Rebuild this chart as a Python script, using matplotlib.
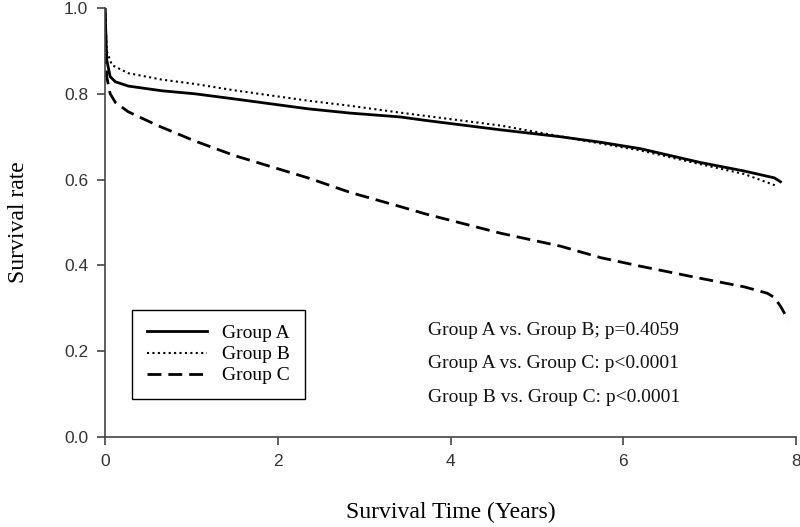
import numpy as np
import matplotlib
matplotlib.use('Agg')
import matplotlib.pyplot as plt

# Kaplan-Meier curves (years, survival rate)
t_a = [0, 0.02, 0.06, 0.12, 0.27, 0.66, 1.04, 1.5, 2.35, 2.84, 3.42, 3.71,
       4.58, 5.27, 5.74, 6.2, 6.89, 7.4, 7.75, 7.82]
s_a = [1.0, 0.879, 0.84, 0.828, 0.818, 0.807, 0.80, 0.788, 0.765, 0.755, 0.746, 0.738,
       0.716, 0.70, 0.687, 0.672, 0.64, 0.62, 0.604, 0.595]

t_b = [0, 0.02, 0.08, 0.27, 0.66, 1.04, 1.5, 2.35, 2.84, 3.42, 4.0, 4.58,
       5.24, 5.74, 6.2, 6.89, 7.4, 7.78]
s_b = [1.0, 0.90, 0.867, 0.848, 0.833, 0.823, 0.808, 0.784, 0.772, 0.756, 0.741, 0.726,
       0.702, 0.684, 0.668, 0.636, 0.613, 0.585]

t_c = [0, 0.02, 0.06, 0.12, 0.27, 0.61, 1.04, 1.5, 2.35, 2.84, 3.42, 3.71,
       4.58, 5.27, 5.74, 6.2, 6.89, 7.4, 7.67, 7.75, 7.82, 7.91]
s_c = [1.0, 0.84, 0.80, 0.78, 0.758, 0.726, 0.69, 0.656, 0.604, 0.57, 0.537, 0.52,
       0.475, 0.445, 0.418, 0.398, 0.37, 0.35, 0.335, 0.325, 0.305, 0.273]

labels = ['Group A', 'Group B', 'Group C']
pvals = ['Group A vs. Group B; p=0.4059',
         'Group A vs. Group C: p<0.0001',
         'Group B vs. Group C: p<0.0001']

serif = 'Liberation Serif'
sans = 'Liberation Sans'
axcol = '#444444'

fig = plt.figure(figsize=(8, 5.27), dpi=100)
ax = fig.add_axes([105/800, 90/527, 691/800, 429/527])

ax.plot(t_a, s_a, color='black', lw=2.0, ls='-', label=labels[0])
ax.plot(t_b, s_b, color='black', lw=1.5, ls=(0, (1, 1.6)), label=labels[1])
ax.plot(t_c, s_c, color='black', lw=2.0, ls=(0, (5, 2.5)), label=labels[2])

ax.set_xlim(0, 8)
ax.set_ylim(0, 1.0)
ax.set_xticks([0, 2, 4, 6, 8])
ax.set_yticks([0.0, 0.2, 0.4, 0.6, 0.8, 1.0])
ax.set_yticklabels(['%.1f' % v for v in [0.0, 0.2, 0.4, 0.6, 0.8, 1.0]])

for side in ['top', 'right']:
    ax.spines[side].set_visible(False)
for side in ['left', 'bottom']:
    ax.spines[side].set_color(axcol)
    ax.spines[side].set_linewidth(1.2)
ax.tick_params(direction='out', length=6, width=1.2, color=axcol,
               labelsize=12.5, labelcolor='#333333', pad=6)
for lab in ax.get_xticklabels() + ax.get_yticklabels():
    lab.set_family(sans)

ax.set_xlabel('Survival Time (Years)', fontsize=17, family=serif, va='center')
ax.xaxis.set_label_coords(0.5, -0.175)
ax.set_ylabel('Survival rate', fontsize=17, family=serif, va='center')
ax.yaxis.set_label_coords(-0.125, 0.5)

leg = ax.legend(loc='upper left', bbox_to_anchor=(0.039, 0.296), borderaxespad=0,
                frameon=True, fancybox=False, edgecolor='black', framealpha=1,
                prop={'family': serif, 'size': 14}, handlelength=3.1,
                handletextpad=0.8, labelspacing=0.18, borderpad=0.75)
leg.get_frame().set_linewidth(1.0)

for i, txt in enumerate(pvals):
    ax.text(3.74, 0.249 - i * 0.078, txt, fontsize=14, family=serif,
            ha='left', va='center', color='#111111')

fig.savefig('out.png', dpi=100)
